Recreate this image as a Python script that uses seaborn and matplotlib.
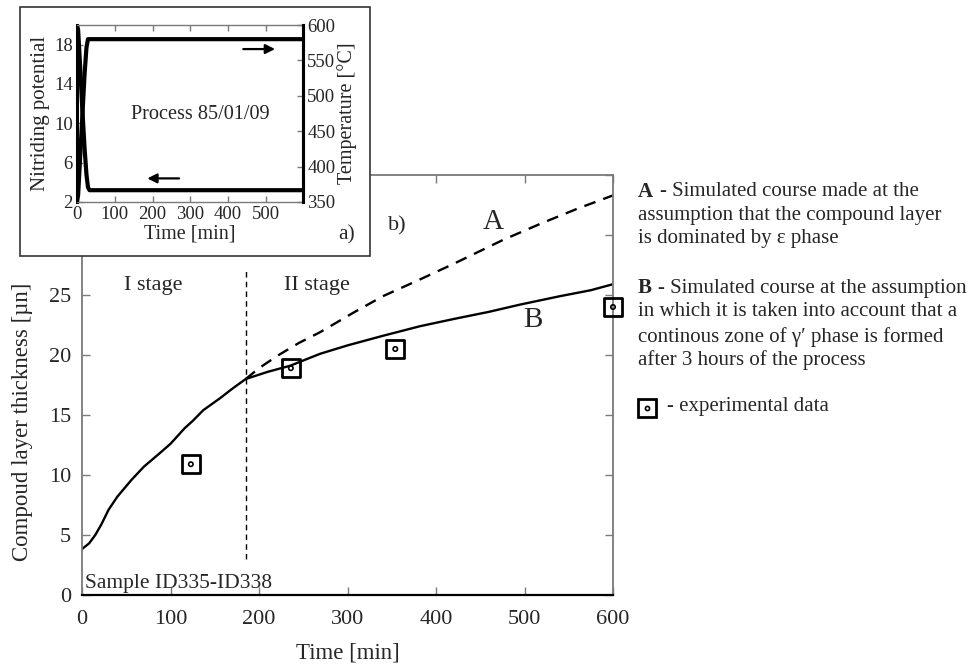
import matplotlib
matplotlib.use("Agg")
import matplotlib.pyplot as plt
import seaborn as sns
import pandas as pd
from matplotlib.patches import Rectangle
from matplotlib.lines import Line2D

# ---------------- data ----------------
# main chart: compound layer thickness [um] vs time [min]
time_B = [0, 8, 15, 22, 30, 40, 56, 70, 86, 100, 116, 125, 137, 156, 170, 185,
          210, 235, 269, 300, 340, 382, 420, 460, 495, 540, 575, 600]
thick_B = [3.83, 4.3, 5.0, 5.9, 7.1, 8.2, 9.6, 10.7, 11.7, 12.6, 13.9, 14.5, 15.4, 16.4, 17.2, 18.0,
           18.6, 19.1, 20.1, 20.8, 21.6, 22.4, 23.0, 23.6, 24.2, 24.9, 25.4, 25.9]
time_A = [185, 200, 220, 245, 269, 306, 340, 382, 420, 476, 520, 560, 600]
thick_A = [18.0, 18.9, 19.9, 21.0, 21.9, 23.5, 24.9, 26.3, 27.6, 29.6, 31.0, 32.2, 33.3]
time_exp = [123, 236, 354, 600]
thick_exp = [10.9, 18.9, 20.5, 24.0]
stage_boundary = 185

x_ticks = [0, 100, 200, 300, 400, 500, 600]
y_ticks = [0, 5, 10, 15, 20, 25, 30, 35]
y_tick_labels = ["0", "5", "10", "15", "20", "25", "", ""]  # 30 and 35 hidden under the inset

# inset: process parameters
time_kn = [0, 3, 8, 14, 20, 25, 29, 33, 598]
kn_vals = [20, 19.5, 16, 11.5, 7.5, 4.8, 3.5, 3.2, 3.2]
time_T = [0, 3, 8, 14, 20, 25, 29, 598]
temp_vals = [350, 360, 410, 470, 530, 568, 580, 580]
inset_x_ticks = [0, 100, 200, 300, 400, 500]
inset_kn_ticks = [2, 6, 10, 14, 18]
inset_T_ticks = [350, 400, 450, 500, 550, 600]

dfB = pd.DataFrame({"t": time_B, "d": thick_B})
dfA = pd.DataFrame({"t": time_A, "d": thick_A})
dfE = pd.DataFrame({"t": time_exp, "d": thick_exp})
dfK = pd.DataFrame({"t": time_kn, "v": kn_vals})
dfT = pd.DataFrame({"t": time_T, "v": temp_vals})

# ---------------- style ----------------
sns.set_style("ticks")
FONT = ["Liberation Serif", "DejaVu Serif"]
plt.rcParams["font.family"] = FONT

W, H = 975, 667
fig = plt.figure(figsize=(W / 100, H / 100), dpi=100)
fig.patch.set_facecolor("white")

def fx(px):
    return px / W

def fy(py):
    return 1 - py / H

GREY = "#7a7a7a"
MAIN_FS = 16

# ---------------- main axes ----------------
ax = fig.add_axes([fx(82), fy(595), (613 - 82) / W, (595 - 175) / H])
ax.set_facecolor("white")
sns.lineplot(data=dfB, x="t", y="d", ax=ax, color="black", lw=1.7, sort=False)
sns.lineplot(data=dfA, x="t", y="d", ax=ax, color="black", lw=1.7, sort=False)
ax.lines[-1].set_dashes((5, 3.5))
ax.plot([stage_boundary, stage_boundary], [3.0, 27.0], color="black", lw=1.0,
        dashes=(4, 3))
sns.scatterplot(data=dfE, x="t", y="d", ax=ax, marker="s", s=170,
                facecolor="none", edgecolor="black", linewidth=2.0, zorder=5)
ax.collections[-1].set_clip_on(False)
sns.scatterplot(data=dfE, x="t", y="d", ax=ax, marker="o", s=10,
                facecolor="none", edgecolor="black", linewidth=1.2, zorder=6)
ax.collections[-1].set_clip_on(False)

ax.set_xlim(0, 600)
ax.set_ylim(0, 35)
ax.set_xticks(x_ticks)
ax.set_yticks(y_ticks)
ax.set_yticklabels(y_tick_labels)
ax.tick_params(direction="in", top=True, right=True, length=6, width=1,
               color=GREY, labelsize=MAIN_FS)
ax.tick_params(axis="x", pad=11)
ax.tick_params(axis="y", pad=8)
for s in ["left", "right", "top"]:
    ax.spines[s].set_color(GREY)
    ax.spines[s].set_linewidth(1.3)
ax.spines["bottom"].set_color("black")
ax.spines["bottom"].set_linewidth(1.6)
ax.set_xlabel("Time [min]", fontsize=16.5)
ax.set_ylabel("Compoud layer thickness [µn]", fontsize=16.5)
ax.xaxis.set_label_coords(0.5, -0.112)
ax.yaxis.set_label_coords(-0.093, 0.412)

ax.text(80, 25.8, "I stage", fontsize=MAIN_FS, ha="center", va="center")
ax.text(265, 25.8, "II stage", fontsize=MAIN_FS, ha="center", va="center")
ax.text(465, 31.1, "A", fontsize=21, ha="center", va="center")
ax.text(510, 22.9, "B", fontsize=21, ha="center", va="center")
ax.text(356, 30.8, "b)", fontsize=MAIN_FS, ha="center", va="center")
ax.text(3.5, 0.6, "Sample ID335-ID338", fontsize=15.5, ha="left", va="baseline")

# ---------------- inset frame ----------------
frame = Rectangle((fx(20), fy(256)), 350 / W, 249 / H, transform=fig.transFigure,
                  facecolor="white", edgecolor="#333333", lw=1.2, zorder=1)
fig.add_artist(frame)

# ---------------- inset axes ----------------
axi = fig.add_axes([fx(77), fy(202), (303 - 77) / W, (202 - 25) / H], zorder=3)
axi.set_facecolor("white")
sns.lineplot(data=dfK, x="t", y="v", ax=axi, color="black", lw=3.0, sort=False)
axi.set_xlim(0, 598)
axi.set_ylim(2, 20)
axi.set_xticks(inset_x_ticks)
axi.set_yticks(inset_kn_ticks)
axi.tick_params(direction="in", top=True, length=4, width=1, color=GREY,
                labelsize=13.5, pad=3)
axi.set_xlabel("Time [min]", fontsize=14.5, labelpad=1)
axi.set_ylabel("Nitriding potential", fontsize=15, labelpad=3)
for s in ["top", "bottom"]:
    axi.spines[s].set_color(GREY)
    axi.spines[s].set_linewidth(1.0)
for s in ["left", "right"]:
    axi.spines[s].set_color("black")
    axi.spines[s].set_linewidth(2.2)
axi.text(326, 10.9, "Process 85/01/09", fontsize=14.6, ha="center", va="center")
axi.annotate("", xy=(186, 4.4), xytext=(270, 4.4),
             arrowprops=dict(arrowstyle="-|>", color="black", lw=1.6,
                             mutation_scale=14, shrinkA=0, shrinkB=0))

axt = axi.twinx()
axt.set_zorder(4)
sns.lineplot(data=dfT, x="t", y="v", ax=axt, color="black", lw=3.0, sort=False)
axt.set_ylim(350, 600)
axt.set_yticks(inset_T_ticks)
axt.set_xlim(0, 598)
axt.tick_params(direction="in", length=4, width=1, color=GREY, labelsize=13.5, pad=3)
axt.set_ylabel("Temperature [°C]", fontsize=14.5, labelpad=1)
axt.spines["right"].set_color("black")
axt.spines["right"].set_linewidth(2.2)
for s in ["top", "bottom", "left"]:
    axt.spines[s].set_visible(False)
axt.annotate("", xy=(524, 566), xytext=(440, 566),
             arrowprops=dict(arrowstyle="-|>", color="black", lw=1.6,
                             mutation_scale=14, shrinkA=0, shrinkB=0))

fig.text(fx(347), fy(235), "a)", fontsize=15.5, ha="center", va="center", zorder=5)

# ---------------- right-hand description ----------------
TX = 638
TS = 15

def line(py, s):
    fig.text(fx(TX), fy(py), s, fontsize=TS, ha="left", va="center")

fig.text(fx(TX), fy(192), "A", fontsize=TS, fontweight="bold", ha="left", va="center")
fig.text(fx(TX + 22), fy(192), "- Simulated course made at the", fontsize=TS,
         ha="left", va="center")
line(215, "assumption that the compound layer")
line(238, "is dominated by ε phase")

fig.text(fx(TX), fy(288), "B", fontsize=TS, fontweight="bold", ha="left", va="center")
fig.text(fx(TX + 20), fy(288), "- Simulated course at the assumption", fontsize=TS,
         ha="left", va="center")
line(312, "in which it is taken into account that a")
line(337, "continous zone of γ′ phase is formed")
line(360, "after 3 hours of the process")

fig.add_artist(Line2D([fx(647)], [fy(408)], marker="s", markersize=12.5,
                      markerfacecolor="none", markeredgecolor="black",
                      markeredgewidth=2.0, transform=fig.transFigure))
fig.add_artist(Line2D([fx(647)], [fy(408)], marker="o", markersize=3,
                      markerfacecolor="none", markeredgecolor="black",
                      markeredgewidth=1.2, transform=fig.transFigure))
fig.text(fx(667), fy(407), "- experimental data", fontsize=TS, ha="left", va="center")

fig.savefig("out.png", dpi=100, facecolor="white")
